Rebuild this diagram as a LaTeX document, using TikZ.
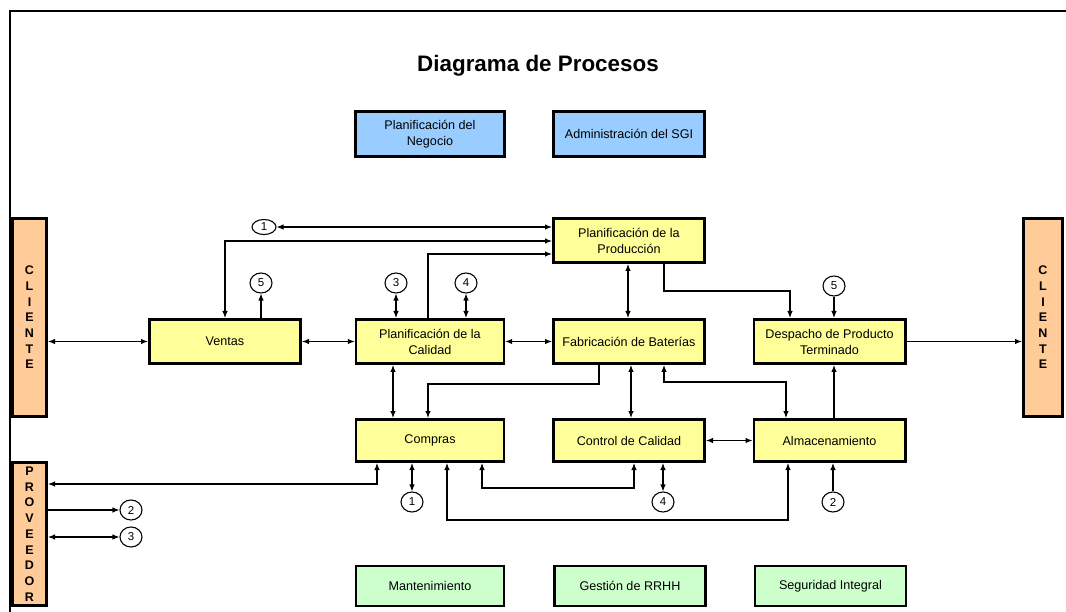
\documentclass[tikz,border=0pt]{standalone}
\usepackage{fontspec}
\setmainfont{Liberation Sans}
\usetikzlibrary{arrows.meta,shapes.geometric}
\definecolor{procyellow}{HTML}{FFFF99}
\definecolor{mgmtblue}{HTML}{99CCFF}
\definecolor{supgreen}{HTML}{CCFFCC}
\definecolor{partorange}{HTML}{FFCC99}

\begin{document}
\begin{tikzpicture}[x=1pt,y=-1pt,
  box/.style={draw, line width=2.6pt, align=center, inner sep=2pt,
    font=\fontsize{12.6}{16}\selectfont},
  proc/.style={box, fill=procyellow, minimum width=151.4pt, minimum height=44.4pt},
  mgmt/.style={box, fill=mgmtblue, minimum width=148.8pt, minimum height=45.4pt},
  sup/.style={box, fill=supgreen, minimum width=150.8pt, minimum height=39.8pt},
  side/.style={box, fill=partorange, font=\bfseries\fontsize{12.5}{15.7}\selectfont},
  num/.style={draw, ellipse, line width=1.1pt, fill=white, minimum width=22pt,
    minimum height=20pt, inner sep=0pt, font=\fontsize{11.5}{11.5}\selectfont},
  tip/.tip={Latex[length=7pt,width=5.5pt]},
  edge/.style={line width=1.1pt, -tip},
  bidir/.style={line width=1.1pt, tip-tip}
]
\useasboundingbox (0,0) rectangle (1066,612);

% page frame
\draw[line width=2pt] (1066,11) -- (10,11) -- (10,612);

% title
\node[font=\bfseries\fontsize{22.4}{22.4}\selectfont] (title) at (538,66) {Diagrama de Procesos};

% management processes
\node[mgmt] (plneg) at (430,134) {Planificación del\\Negocio};
\node[mgmt, minimum width=151.4pt] (admsgi) at (629,134) {Administración del SGI};

% core processes
\node[proc] (plprod) at (629,240.5) {Planificación de la\\Producción};
\node[proc] (ventas) at (225,341.5) {Ventas};
\node[proc, minimum width=147.8pt] (plcal) at (430,341.5) {Planificación de la\\Calidad};
\node[proc] (fab) at (629,341.5) {Fabricación de Baterías};
\node[proc] (desp) at (829.5,341.5) {Despacho de Producto\\Terminado};
\node[proc, minimum width=147.8pt, minimum height=42.4pt] (compras) at (430,440.5) {Compras};
\node[proc, minimum height=42.4pt] (control) at (629,440.5) {Control de Calidad};
\node[proc, minimum height=42.4pt] (almac) at (829.5,440.5) {Almacenamiento};

% support processes
\node[sup, minimum width=147.8pt] (mant) at (430,586) {Mantenimiento};
\node[sup] (rrhh) at (630,586) {Gestión de RRHH};
\node[sup] (segint) at (830.5,586) {Seguridad Integral};

% client and supplier bars
\node[side, minimum width=34.4pt, minimum height=198.4pt] (cliL) at (29.5,317.5) {C\\L\\I\\E\\N\\T\\E};
\node[side, minimum width=39.4pt, minimum height=198.4pt] (cliR) at (1043,317.5) {C\\L\\I\\E\\N\\T\\E};
\node[side, minimum width=34.4pt, minimum height=143.4pt] (prov) at (29.5,534) {P\\R\\O\\V\\E\\E\\D\\O\\R};

% link markers
\node[num, minimum width=24pt, minimum height=15pt] (c1t) at (264,227) {1};
\node[num] (c5a) at (261,283) {5};
\node[num] (c3a) at (396,283) {3};
\node[num] (c4a) at (466,283) {4};
\node[num] (c5b) at (834,286) {5};
\node[num] (c1b) at (412,502) {1};
\node[num] (c4b) at (663,502) {4};
\node[num] (c2b) at (833,502) {2};
\node[num] (c2L) at (131,510) {2};
\node[num] (c3L) at (131,537) {3};

% connectors: upper part
\draw[bidir] (c1t.east) -- (c1t.east -| plprod.west);
\draw[bidir] (225,241 |- ventas.north) -- (225,241) -- (225,241 -| plprod.west);
\draw[edge] (428,254 |- plcal.north) -- (428,254) -- (428,254 -| plprod.west);
\draw[edge] (c5a.south |- ventas.north) -- (c5a.south);
\draw[bidir] (c3a.south |- plcal.north) -- (c3a.south);
\draw[bidir] (c4a.south |- plcal.north) -- (c4a.south);

% connectors: middle row
\draw[bidir] (cliL.east |- ventas.west) -- (ventas.west);
\draw[bidir] (ventas.east) -- (plcal.west);
\draw[bidir] (plcal.east) -- (fab.west);
\draw[bidir] (628,0 |- plprod.south) -- (628,0 |- fab.north);
\draw[edge] (664,0 |- plprod.south) -- (664,291) -- (790,291) -- (790,0 |- desp.north);
\draw[edge] (c5b.south) -- (c5b.south |- desp.north);
\draw[edge] (desp.east) -- (cliR.west |- desp.east);

% connectors: between middle and lower rows
\draw[edge] (599,0 |- fab.south) -- (599,384) -- (428,384) -- (428,0 |- compras.north);
\draw[bidir] (393,0 |- plcal.south) -- (393,0 |- compras.north);
\draw[bidir] (631,0 |- fab.south) -- (631,0 |- control.north);
\draw[bidir] (664,0 |- fab.south) -- (664,382) -- (786,382) -- (786,0 |- almac.north);
\draw[edge] (834,0 |- almac.north) -- (834,0 |- desp.south);
\draw[bidir] (control.east) -- (almac.west);

% connectors: lower part
\draw[bidir] (prov.east |- 0,484) -- (377,484) -- (377,0 |- compras.south);
\draw[bidir] (412,0 |- compras.south) -- (c1b.north);
\draw[bidir] (482,0 |- compras.south) -- (482,488) -- (634,488) -- (634,0 |- control.south);
\draw[bidir] (c4b.north |- control.south) -- (c4b.north);
\draw[bidir] (447,0 |- compras.south) -- (447,520) -- (788,520) -- (788,0 |- almac.south);
\draw[edge] (c2b.north) -- (c2b.north |- almac.south);
\draw[edge] (prov.east |- c2L.west) -- (c2L.west);
\draw[bidir] (prov.east |- c3L.west) -- (c3L.west);
\end{tikzpicture}
\end{document}
